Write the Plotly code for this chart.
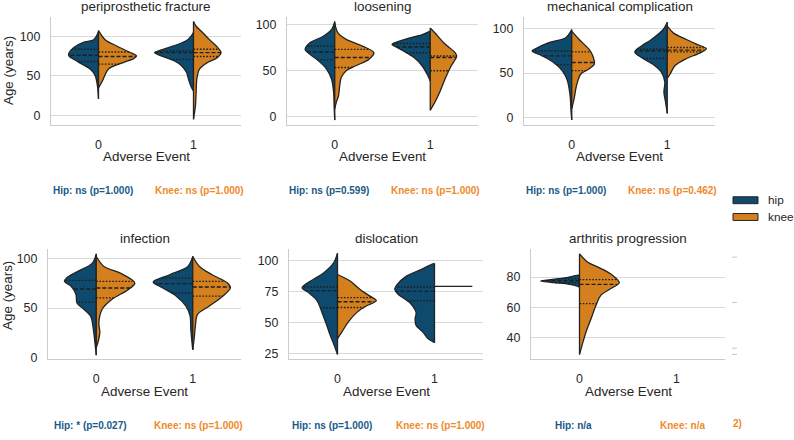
import numpy as np
import plotly.graph_objects as go
from plotly.subplots import make_subplots

# ---------------- data ----------------
panel_titles = ["periprosthetic fracture", "loosening", "mechanical complication",
                "infection", "dislocation", "arthritis progression"]
categories = [0, 1]
hip_stats = ["Hip: ns (p=1.000)", "Hip: ns (p=0.599)", "Hip: ns (p=1.000)",
             "Hip: * (p=0.027)", "Hip: ns (p=1.000)", "Hip: n/a"]
knee_stats = ["Knee: ns (p=1.000)", "Knee: ns (p=1.000)", "Knee: ns (p=0.462)",
              "Knee: ns (p=1.000)", "Knee: ns (p=1.000)", "Knee: n/a"]
y_tickvals = [[0, 50, 100], [0, 50, 100], [0, 50, 100], [0, 50, 100],
              [25, 50, 75, 100], [40, 60, 80]]

# violin half profiles: (age, half-width of density) from top to bottom, per category 0 / 1
fracture_hip = [
    [(106, 0), (96, 0.05), (92.5, 0.16), (86, 0.26), (77.5, 0.315), (75, 0.31), (67.5, 0.21),
     (58.75, 0.088), (50.4, 0.035), (38, 0.012), (21, 0)],
    [(105, 0), (96, 0.06), (88, 0.21), (81.7, 0.37), (79.6, 0.41), (75.4, 0.34), (69, 0.2),
     (63, 0.126), (54.6, 0.074), (46, 0.053), (36, 0.024), (31, 0)]]
fracture_knee = [
    [(107.5, 0), (96, 0.07), (88, 0.19), (80, 0.33), (75.4, 0.40), (72, 0.37), (67, 0.26),
     (58.75, 0.105), (46, 0.05), (38, 0.015), (35, 0)],
    [(119, 0), (113, 0.028), (105, 0.095), (96, 0.168), (88, 0.24), (79.6, 0.29), (73, 0.25),
     (67, 0.147), (58.75, 0.063), (46, 0.035), (30, 0.028), (13, 0.021), (-5, 0)]]
fracture_hip_quart = [[68.4, 76.25, 83.75], [71, 79.6, 81.7]]
fracture_knee_quart = [[65, 74.6, 80.4], [74.6, 79.6, 83.75]]

loosening_hip = [
    [(103.6, 0), (94.6, 0.034), (87.5, 0.12), (80.4, 0.26), (73.2, 0.31), (67.9, 0.26),
     (60.7, 0.17), (51.8, 0.086), (41, 0.034), (26.8, 0.012), (9, 0.006), (-3.6, 0)],
    [(93, 0), (89, 0.09), (85, 0.24), (80, 0.38), (78.6, 0.40), (76, 0.36), (72, 0.29),
     (64.3, 0.17), (55.4, 0.086), (46.4, 0.034), (39, 0)]]
loosening_knee = [
    [(101.8, 0), (91, 0.034), (84, 0.12), (76.8, 0.29), (69.6, 0.41), (62.5, 0.36),
     (55.4, 0.22), (50, 0.12), (42.9, 0.069), (34, 0.052), (23, 0.04), (16, 0.017), (9, 0)],
    [(96.4, 0), (91, 0.05), (80.4, 0.14), (69.6, 0.26), (65.4, 0.276), (55.4, 0.22),
     (41, 0.155), (26.8, 0.1), (16, 0.05), (7, 0)]]
loosening_hip_quart = [[61.8, 70.4, 76.8], [69.6, 75.7, 79.6]]
loosening_knee_quart = [[53.6, 64.3, 73.2], [50, 64.3, 66]]

mechanical_hip = [
    [(99.3, 0), (90, 0.063), (84.4, 0.24), (78, 0.37), (75, 0.415), (69.5, 0.31), (62, 0.19),
     (52.8, 0.1), (41.6, 0.046), (25, 0.018), (6, 0.007), (-3, 0)],
    [(107.4, 0), (99.3, 0.042), (88, 0.165), (80.7, 0.27), (74, 0.34), (67.6, 0.27), (60, 0.15),
     (50.9, 0.06), (39.7, 0.025), (28.6, 0.035), (17.4, 0.018), (4.4, 0)]]
mechanical_knee = [
    [(97.4, 0), (88, 0.077), (77, 0.18), (69.5, 0.22), (60, 0.236), (54.6, 0.18), (49, 0.095),
     (36, 0.05), (21, 0.025), (10, 0)],
    [(103, 0), (95.5, 0.063), (88, 0.2), (82.5, 0.31), (77.7, 0.41), (73.2, 0.35), (65.8, 0.19),
     (58.3, 0.08), (49, 0.03), (44, 0)]]
mechanical_hip_quart = [[59.5, 69.5, 75], [66.5, 75, 77]]
mechanical_knee_quart = [[52.8, 62, 74], [74, 76, 79]]

infection_hip = [
    [(104.3, 0), (95, 0.04), (86.8, 0.19), (80, 0.31), (76.8, 0.33), (71.9, 0.26), (63.6, 0.21),
     (55.3, 0.2), (48.7, 0.126), (42, 0.058), (28.8, 0.03), (15.6, 0.014), (3, 0)],
    [(101.7, 0), (91.7, 0.05), (83.4, 0.24), (76.2, 0.41), (70.2, 0.31), (62, 0.17), (52, 0.07),
     (42, 0.027), (28.8, 0.02), (8.3, 0)]]
infection_knee = [
    [(101.7, 0), (91.7, 0.08), (85, 0.25), (75.2, 0.40), (68.5, 0.33), (58.6, 0.16), (48.7, 0.06),
     (35.4, 0.027), (25.5, 0.037), (15.6, 0.017), (10.6, 0)],
    [(101.7, 0), (91.7, 0.07), (83.4, 0.2), (75.2, 0.36), (70.2, 0.39), (62, 0.31), (52, 0.17),
     (43.7, 0.05), (32, 0.027), (18.9, 0.014), (9, 0)]]
infection_hip_quart = [[56, 69.2, 77.8], [65.2, 74.5, 80]]
infection_knee_quart = [[60.3, 70.2, 76.8], [62, 71.2, 76.8]]

dislocation_hip = [
    [(105.8, 0), (97.9, 0.04), (90, 0.14), (84.6, 0.25), (78, 0.365), (74, 0.30), (67.4, 0.21),
     (58, 0.16), (47.5, 0.11), (39.6, 0.075), (31.6, 0.034), (24.2, 0)],
    [(97.5, 0), (96, 0.05), (92.6, 0.14), (87.3, 0.29), (80, 0.39), (76.7, 0.41), (72.7, 0.375),
     (66, 0.256), (58, 0.19), (52.8, 0.2), (47.5, 0.19), (42.2, 0.12), (37, 0.068), (33.7, 0)]]
dislocation_knee = [
    [(88.6, 0), (83.3, 0.13), (76.7, 0.23), (71.4, 0.33), (67.4, 0.40), (63.4, 0.3), (58.1, 0.2),
     (50.2, 0.11), (42.2, 0.044), (37, 0)],
    None]
dislocation_knee_single = [None, 79.0]   # a single knee observation in category 1
dislocation_hip_quart = [[61.8, 75.6, 78.5], [67.4, 75, 78.5]]
dislocation_knee_quart = [[62, 66.6, 70], None]

arthritis_hip = [
    [(81.5, 0), (81, 0.04), (79.3, 0.17), (78, 0.34), (77.4, 0.40), (76.6, 0.30), (75.5, 0.13),
     (74.2, 0.03), (73.4, 0)],
    None]
arthritis_knee = [
    [(95.3, 0), (89.8, 0.085), (86.6, 0.19), (82.2, 0.32), (76.3, 0.41), (72.3, 0.32), (68, 0.22),
     (61.4, 0.17), (52.7, 0.12), (44, 0.068), (35.2, 0.027), (29, 0)],
    None]
arthritis_hip_quart = [[76.3, 77.6, 78.8], None]
arthritis_knee_quart = [[62.5, 75.2, 78.3], None]

# ---------------- figure ----------------
W, H = 794, 440
HIP_FILL, KNEE_FILL = "#0e4a6d", "#d5801f"
HIP_TEXT, KNEE_TEXT = "#185a88", "#f0892a"
OUTLINE = "#232323"
INNER = "#1e1e1e"
GRID = "#d9d9d9"
SPINE = "#cccccc"
TXT = "#262626"
FONT = "Liberation Sans, Arial, sans-serif"

panels = [
    (fracture_hip, fracture_knee, fracture_hip_quart, fracture_knee_quart, [None, None]),
    (loosening_hip, loosening_knee, loosening_hip_quart, loosening_knee_quart, [None, None]),
    (mechanical_hip, mechanical_knee, mechanical_hip_quart, mechanical_knee_quart, [None, None]),
    (infection_hip, infection_knee, infection_hip_quart, infection_knee_quart, [None, None]),
    (dislocation_hip, dislocation_knee, dislocation_hip_quart, dislocation_knee_quart, dislocation_knee_single),
    (arthritis_hip, arthritis_knee, arthritis_hip_quart, arthritis_knee_quart, [None, None]),
]
y_ranges = [[-12.5, 125], [-9.2, 108.6], [-9, 113.7], [-0.9, 109.6], [20.5, 109.5], [26, 98.8]]

# pixel layout of each axes box: (left, right, top, bottom)
boxes = [(51, 241, 17, 127), (287, 478, 17, 127), (524, 715, 17, 127),
         (48, 241, 252, 364), (289, 483, 252, 364), (531, 725, 252, 364)]


def px(x):
    return x / W


def py(y):
    return 1 - y / H


fig = make_subplots(rows=2, cols=3)


def add_half(row, col, cat, prof, quart, sign, color):
    ages = np.array([a for a, _ in prof], dtype=float)
    wid = np.array([w for _, w in prof], dtype=float)
    fig.add_trace(go.Scatter(
        x=cat + sign * wid, y=ages, mode="lines", fill="toself", fillcolor=color,
        line=dict(color=OUTLINE, width=1.3, shape="spline", smoothing=0.9),
        hoverinfo="skip", showlegend=False), row=row, col=col)
    fig.add_trace(go.Scatter(
        x=[cat, cat], y=[ages[0], ages[-1]], mode="lines",
        line=dict(color=OUTLINE, width=1.3), hoverinfo="skip", showlegend=False), row=row, col=col)
    if quart is not None:
        for i, q in enumerate(quart):
            w = np.interp(q, ages[::-1], wid[::-1])
            dash = "4px,2px" if i == 1 else "1.6px,1.6px"
            fig.add_trace(go.Scatter(
                x=[cat, cat + sign * w], y=[q, q], mode="lines",
                line=dict(color=INNER, width=1.4, dash=dash),
                hoverinfo="skip", showlegend=False), row=row, col=col)


for k, (hip, knee, hq, kq, single) in enumerate(panels):
    row, col = k // 3 + 1, k % 3 + 1
    for c in categories:
        if hip[c] is not None:
            add_half(row, col, c, hip[c], hq[c], -1, HIP_FILL)
        if knee[c] is not None:
            add_half(row, col, c, knee[c], kq[c], +1, KNEE_FILL)
        if single[c] is not None:
            fig.add_trace(go.Scatter(
                x=[c, c + 0.39], y=[single[c], single[c]], mode="lines",
                line=dict(color=OUTLINE, width=1.3), hoverinfo="skip", showlegend=False),
                row=row, col=col)

annotations = []
for k in range(6):
    l, r, t, b = boxes[k]
    sfx = "" if k == 0 else str(k + 1)
    fig.layout["xaxis" + sfx].update(
        domain=[px(l), px(r)], range=[-0.5, 1.5], tickvals=categories,
        ticktext=[str(c) for c in categories], showgrid=False, zeroline=False,
        showline=True, linecolor=SPINE, linewidth=1.25, ticks="",
        ticklabelstandoff=8, tickfont=dict(family=FONT, size=12.4, color=TXT))
    fig.layout["yaxis" + sfx].update(
        domain=[py(b), py(t)], range=y_ranges[k], tickvals=y_tickvals[k],
        showgrid=True, gridcolor=GRID, gridwidth=1, zeroline=False,
        showline=True, linecolor=SPINE, linewidth=1.25, ticks="",
        ticklabelstandoff=7, tickfont=dict(family=FONT, size=12.4, color=TXT))
    row_top = k < 3
    cx = px((l + r) / 2)
    annotations.append(dict(text=panel_titles[k], x=cx, y=py(7 if row_top else 242),
                            xref="paper", yref="paper", showarrow=False, xanchor="center",
                            yanchor="middle", font=dict(family=FONT, size=13.4, color=TXT)))
    annotations.append(dict(text="Adverse Event", x=cx, y=py(159 if row_top else 397),
                            xref="paper", yref="paper", showarrow=False, xanchor="center",
                            yanchor="middle", font=dict(family=FONT, size=13.4, color=TXT)))
    ys = py(193 if row_top else 431)
    annotations.append(dict(text="<b>" + hip_stats[k] + "</b>", x=px(l + 0.22 * (r - l)), y=ys,
                            xref="paper", yref="paper", showarrow=False, xanchor="center",
                            yanchor="middle", font=dict(family=FONT, size=10, color=HIP_TEXT)))
    annotations.append(dict(text="<b>" + knee_stats[k] + "</b>", x=px(l + 0.78 * (r - l)), y=ys,
                            xref="paper", yref="paper", showarrow=False, xanchor="center",
                            yanchor="middle", font=dict(family=FONT, size=10, color=KNEE_TEXT)))
    if k % 3 == 0:
        annotations.append(dict(text="Age (years)", x=px(8), y=py(72 if row_top else 300),
                                xref="paper", yref="paper", showarrow=False, textangle=-90,
                                xanchor="center", yanchor="middle",
                                font=dict(family=FONT, size=13.4, color=TXT)))

# legend (hip / knee patches)
legend_items = [("hip", HIP_FILL, 199.5, 206.5, 203), ("knee", KNEE_FILL, 216.5, 223.5, 220)]
shapes = []
for name, colr, y0, y1, yt in legend_items:
    shapes.append(dict(type="rect", xref="paper", yref="paper", x0=px(733), x1=px(758),
                       y0=py(y1), y1=py(y0), fillcolor=colr, line=dict(color=OUTLINE, width=1)))
    annotations.append(dict(text=name, x=px(766), y=py(yt), xref="paper", yref="paper",
                            showarrow=False, xanchor="left", yanchor="middle",
                            font=dict(family=FONT, size=11.8, color=TXT)))

# stray tick remnants and clipped text at the lower right of the reference
for yy in [260.7, 306.7, 353, 359.3]:
    shapes.append(dict(type="line", xref="paper", yref="paper", x0=px(732), x1=px(737),
                       y0=py(yy), y1=py(yy), line=dict(color="#c8c8c8", width=1)))
annotations.append(dict(text="<b>2)</b>", x=px(731), y=py(429), xref="paper", yref="paper",
                        showarrow=False, xanchor="left", yanchor="middle",
                        font=dict(family=FONT, size=10, color=KNEE_TEXT)))

fig.update_layout(width=W, height=H, margin=dict(l=0, r=0, t=0, b=0),
                  paper_bgcolor="white", plot_bgcolor="white", showlegend=False,
                  annotations=annotations, shapes=shapes,
                  font=dict(family=FONT, color=TXT))

fig.write_html("out.html")
